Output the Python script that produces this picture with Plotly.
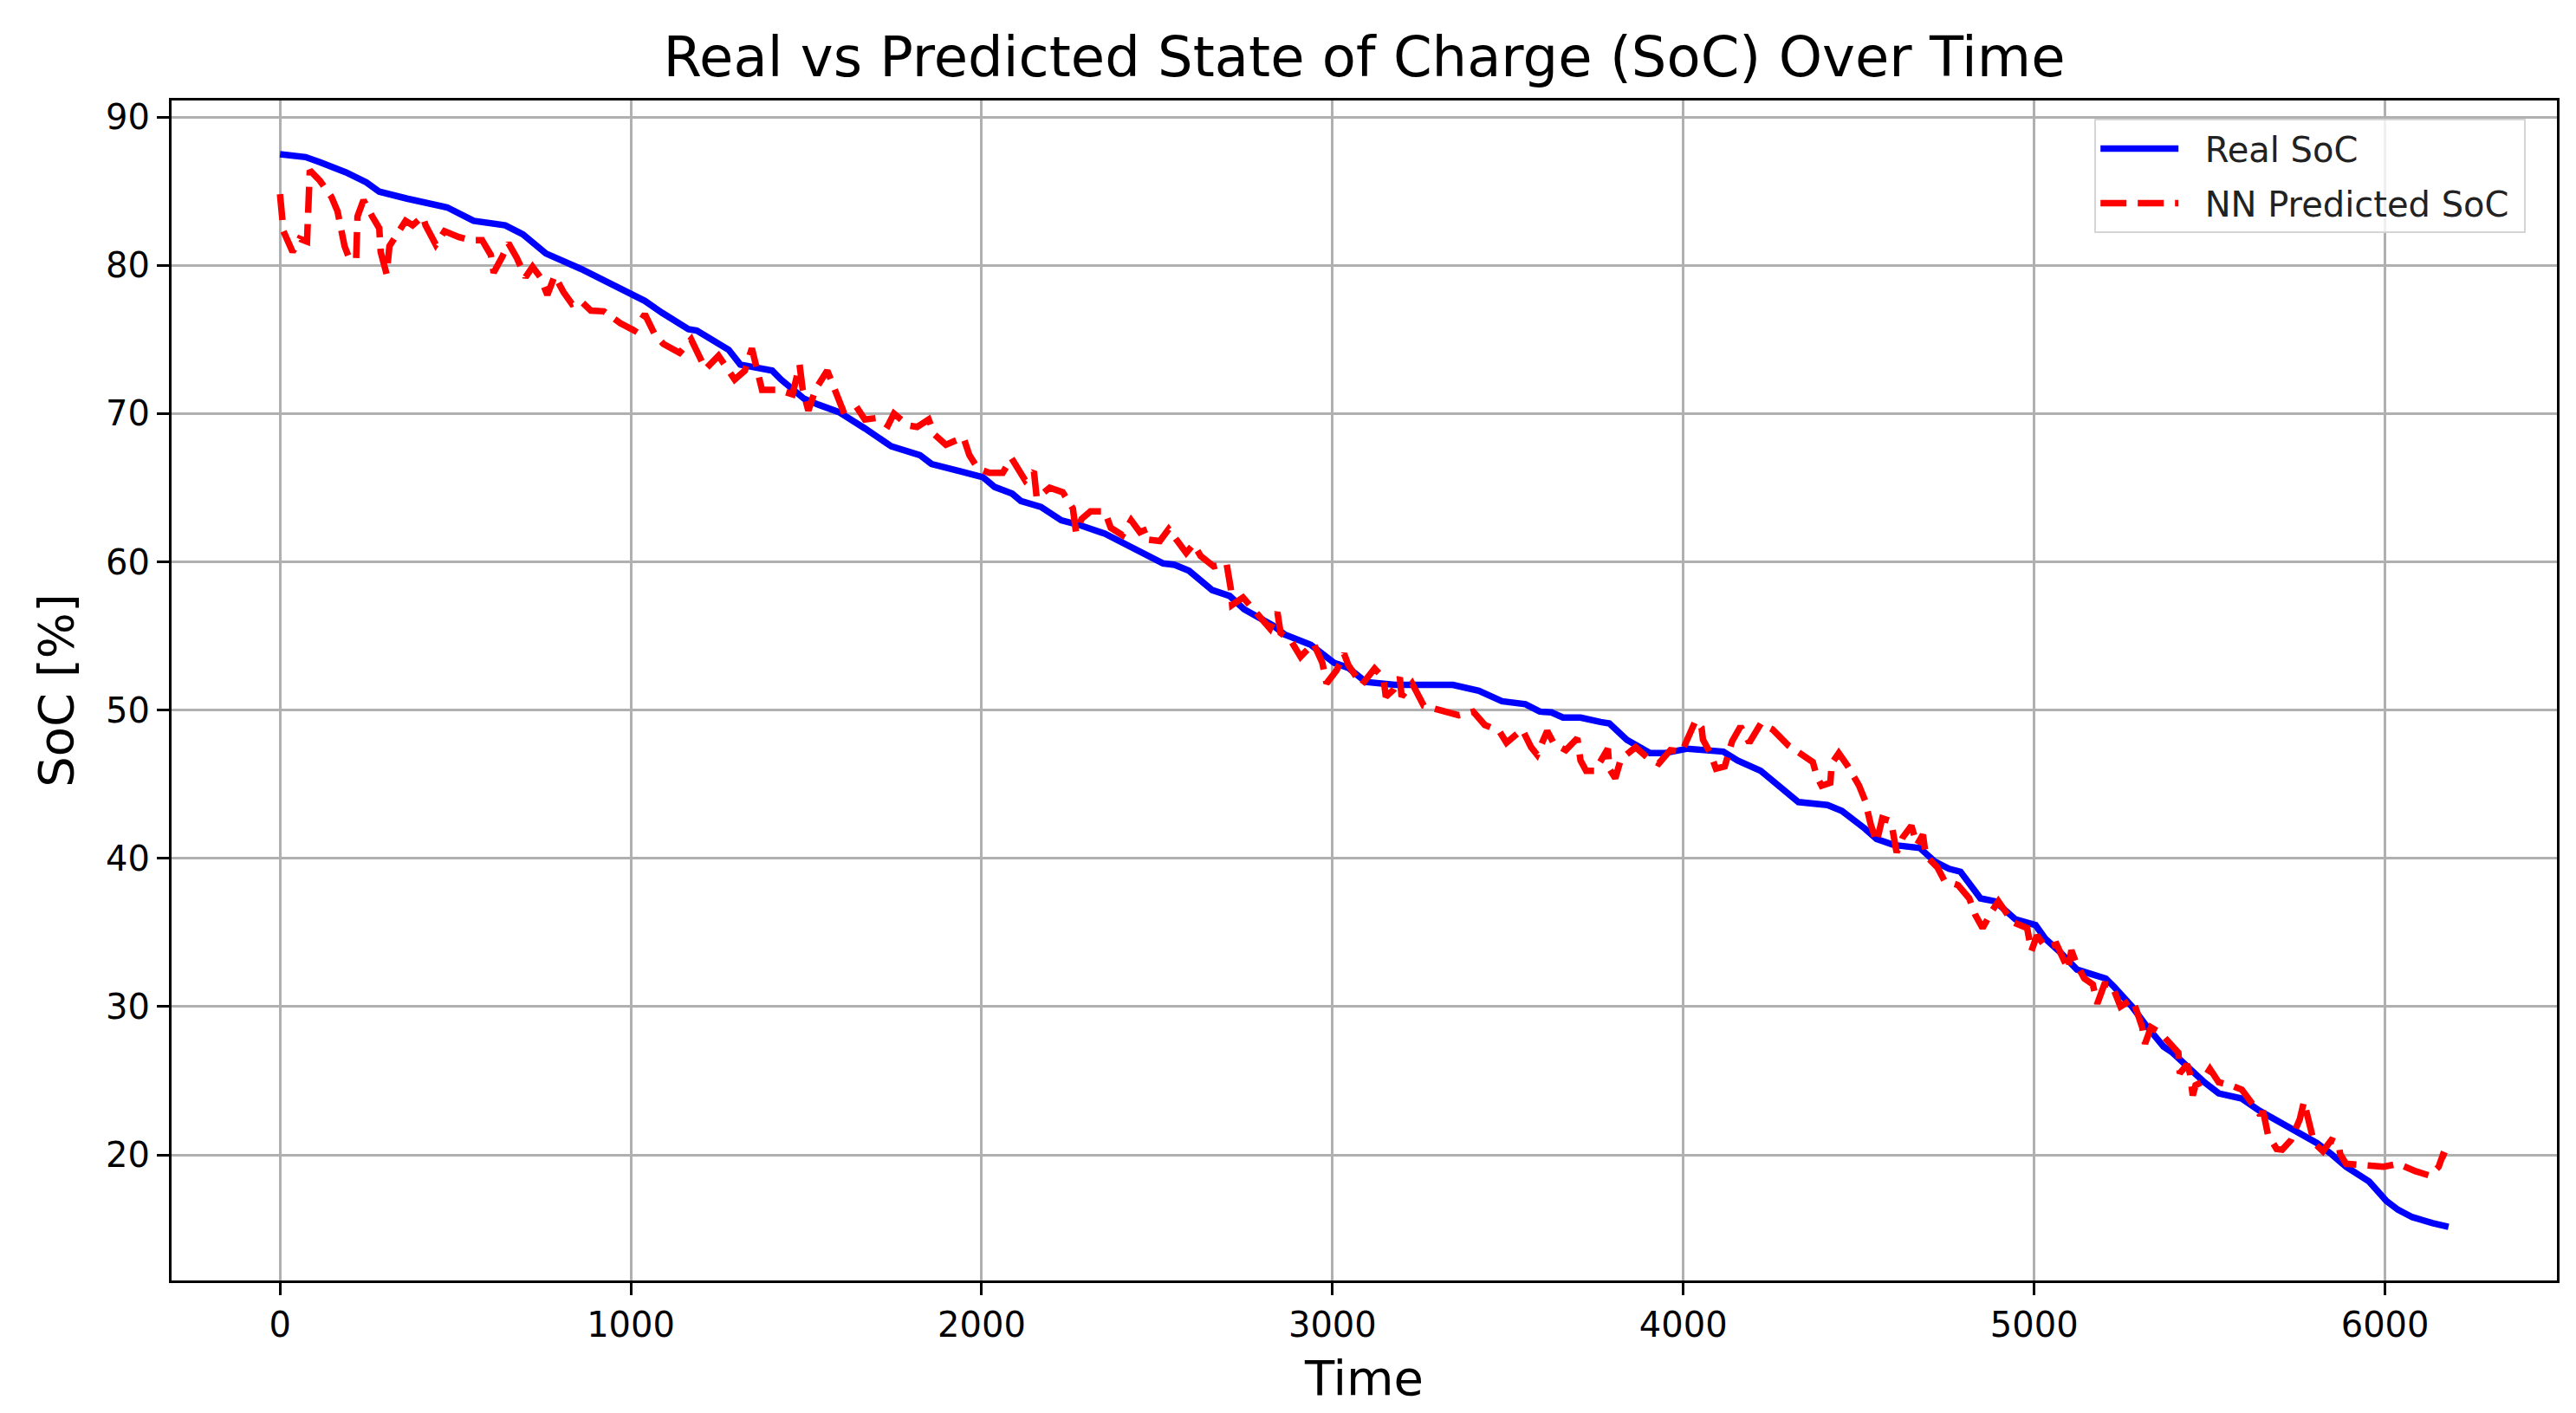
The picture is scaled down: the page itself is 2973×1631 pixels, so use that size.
import plotly.graph_objects as go

# ---- data ----
time_real = [0, 73, 114, 188, 246, 283, 362, 477, 552, 642, 692, 758, 857, 970, 1040, 1089, 1164, 1188,
             1279, 1312, 1403, 1428, 1494, 1535, 1593, 1667, 1742, 1824, 1857, 1940, 2004, 2037, 2087,
             2112, 2169, 2227, 2277, 2351, 2401, 2459, 2517, 2550, 2591, 2657, 2707, 2748, 2831, 2864,
             2938, 3004, 3045, 3095, 3178, 3343, 3417, 3483, 3550, 3591, 3624, 3657, 3707, 3764, 3789,
             3839, 3872, 3905, 3946, 4012, 4114, 4155, 4221, 4270, 4328, 4411, 4452, 4518, 4551, 4600,
             4674, 4716, 4757, 4790, 4847, 4889, 4946, 5004, 5031, 5073, 5122, 5163, 5204, 5229, 5279,
             5320, 5369, 5394, 5444, 5485, 5526, 5592, 5641, 5691, 5749, 5806, 5847, 5889, 5955, 6004,
             6037, 6078, 6136, 6181]
soc_real = [87.5, 87.3, 86.95, 86.27, 85.6, 84.97, 84.5, 83.9, 83.0, 82.7, 82.1, 80.8, 79.77, 78.4, 77.6,
            76.8, 75.7, 75.6, 74.3, 73.3, 72.9, 72.3, 71.0, 70.6, 70.1, 69.0, 67.8, 67.2, 66.6, 66.1,
            65.7, 65.05, 64.6, 64.1, 63.7, 62.8, 62.5, 61.9, 61.3, 60.7, 59.9, 59.8, 59.4, 58.1, 57.7,
            56.8, 55.7, 55.1, 54.4, 53.2, 52.85, 51.9, 51.7, 51.7, 51.3, 50.6, 50.4, 49.9, 49.85, 49.5,
            49.5, 49.2, 49.1, 48.0, 47.5, 47.1, 47.1, 47.4, 47.2, 46.6, 45.9, 45.0, 43.8, 43.6, 43.2,
            42.0, 41.3, 40.9, 40.7, 39.8, 39.3, 39.1, 37.3, 37.1, 35.9, 35.5, 34.6, 33.7, 32.5, 32.2,
            31.9, 31.3, 30.0, 28.7, 27.3, 26.9, 25.8, 24.9, 24.15, 23.8, 23.0, 22.3, 21.6, 20.8, 20.06,
            19.2, 18.2, 16.9, 16.3, 15.8, 15.4, 15.15]

time_pred = [0, 5, 10, 36, 56, 77, 81, 85, 114, 147, 164, 184, 197, 217, 221, 238, 263, 283, 287, 296,
             304, 312, 329, 358, 378, 407, 415, 444, 469, 510, 543, 576, 601, 609, 634, 651, 675, 700,
             720, 742, 762, 783, 808, 832, 857, 886, 923, 970, 1010, 1040, 1069, 1093, 1139, 1172, 1213,
             1250, 1296, 1325, 1345, 1362, 1374, 1420, 1461, 1481, 1490, 1506, 1527, 1560, 1576, 1605,
             1642, 1667, 1700, 1733, 1750, 1791, 1816, 1849, 1865, 1898, 1948, 1965, 1989, 2022, 2060,
             2085, 2124, 2149, 2157, 2194, 2231, 2260, 2269, 2285, 2310, 2351, 2368, 2401, 2426, 2451,
             2471, 2475, 2508, 2533, 2558, 2583, 2604, 2624, 2661, 2698, 2710, 2714, 2745, 2760, 2781,
             2822, 2843, 2852, 2881, 2909, 2946, 2971, 2983, 3012, 3033, 3045, 3083, 3120, 3145, 3152,
             3175, 3192, 3197, 3227, 3260, 3302, 3360, 3401, 3434, 3475, 3496, 3541, 3566, 3583, 3612,
             3632, 3665, 3698, 3707, 3723, 3748, 3785, 3789, 3806, 3822, 3864, 3897, 3930, 3963, 3996,
             4015, 4035, 4052, 4056, 4077, 4093, 4118, 4126, 4139, 4163, 4188, 4221, 4254, 4300, 4328,
             4369, 4381, 4394, 4419, 4423, 4443, 4468, 4501, 4518, 4534, 4551, 4567, 4592, 4608, 4625,
             4650, 4666, 4683, 4691, 4724, 4744, 4783, 4815, 4832, 4853, 4881, 4898, 4939, 4980, 4992,
             5008, 5033, 5064, 5097, 5106, 5122, 5143, 5167, 5180, 5200, 5221, 5246, 5279, 5291, 5308,
             5316, 5333, 5361, 5386, 5411, 5415, 5436, 5444, 5452, 5460, 5477, 5501, 5526, 5559, 5592,
             5617, 5641, 5654, 5666, 5691, 5707, 5732, 5757, 5769, 5780, 5798, 5823, 5847, 5868, 5872,
             5889, 5930, 5971, 5996, 6037, 6054, 6087, 6128, 6153, 6165, 6175]
soc_pred = [84.8, 83.0, 82.3, 80.9, 81.8, 81.6, 85.0, 86.4, 85.7, 84.6, 83.65, 81.3, 80.5, 80.4, 83.3,
            84.4, 83.3, 82.5, 80.9, 79.86, 79.4, 81.3, 81.9, 83.0, 82.7, 83.3, 82.7, 81.4, 82.3, 81.9,
            81.7, 81.7, 80.7, 79.5, 80.6, 81.5, 80.5, 79.2, 79.9, 79.2, 78.0, 79.3, 78.2, 77.4, 77.6,
            76.95, 76.9, 76.1, 75.6, 76.7, 75.3, 74.7, 74.1, 75.0, 73.0, 73.9, 72.3, 72.9, 74.4, 72.9,
            71.6, 71.6, 71.3, 73.3, 71.6, 70.2, 71.65, 72.9, 71.9, 70.2, 70.5, 69.6, 69.7, 69.2, 70.0,
            69.2, 69.1, 69.6, 68.6, 67.9, 68.4, 67.2, 66.3, 66.0, 66.0, 67.0, 65.5, 66.1, 64.3, 65.0,
            64.7, 63.6, 62.0, 62.9, 63.4, 63.4, 62.3, 61.8, 62.8, 62.0, 62.2, 61.5, 61.4, 62.2, 61.4,
            60.6, 61.2, 60.4, 59.7, 59.9, 58.2, 57.1, 57.6, 57.2, 56.5, 55.5, 56.6, 55.2, 54.7, 53.6,
            54.5, 53.2, 51.8, 52.7, 53.8, 53.05, 51.7, 52.8, 52.2, 50.9, 51.4, 52.2, 50.9, 51.8, 50.3,
            50.0, 49.65, 49.9, 49.0, 48.6, 47.8, 48.7, 47.5, 47.0, 48.6, 47.7, 47.3, 48.1, 46.6, 45.9,
            45.9, 47.4, 46.05, 45.4, 46.7, 47.5, 46.8, 46.4, 47.3, 47.2, 48.3, 49.3, 48.8, 48.0, 47.1,
            46.05, 46.2, 47.0, 47.9, 48.9, 47.8, 49.1, 48.7, 47.6, 47.2, 46.5, 45.5, 44.9, 45.1, 46.4,
            47.1, 46.25, 44.9, 43.9, 42.3, 41.1, 42.7, 42.5, 40.4, 41.4, 42.2, 40.9, 41.6, 40.2, 39.4,
            38.5, 38.2, 37.3, 36.2, 35.3, 36.5, 37.1, 35.7, 35.3, 33.75, 34.8, 34.0, 34.2, 32.5, 33.8,
            32.8, 31.9, 31.5, 30.2, 31.5, 31.5, 30.0, 30.5, 29.8, 28.6, 27.5, 28.6, 28.2, 27.5, 26.9,
            25.5, 26.1, 25.5, 24.0, 24.7, 24.9, 25.8, 24.9, 24.7, 24.4, 23.6, 22.8, 22.8, 21.4, 20.4,
            20.35, 21.0, 22.4, 23.6, 22.4, 20.8, 20.25, 21.0, 20.8, 20.06, 19.4, 19.3, 19.2, 19.2, 19.4,
            19.2, 18.9, 18.6, 19.2, 20.0, 19.9]

x_ticks = [0, 1000, 2000, 3000, 4000, 5000, 6000]
y_ticks = [20, 30, 40, 50, 60, 70, 80, 90]
series_names = ["Real SoC", "NN Predicted SoC"]

FONT = "DejaVu Sans"
NB = "\u00a0"

# matplotlib-style 5% data margins
xmin = min(min(time_real), min(time_pred)); xmax = max(max(time_real), max(time_pred))
ymin = min(min(soc_real), min(soc_pred)); ymax = max(max(soc_real), max(soc_pred))
xpad = 0.05 * (xmax - xmin); ypad = 0.05 * (ymax - ymin)

fig = go.Figure()
fig.add_trace(go.Scatter(x=time_real, y=soc_real, mode="lines",
                         name=NB * 2 + series_names[0] + NB, legendgroup="a",
                         line=dict(color="#0000ff", width=7.5)))
fig.add_trace(go.Scatter(x=time_pred, y=soc_pred, mode="lines",
                         name=NB * 2 + series_names[1] + NB, legendgroup="b",
                         line=dict(color="#ff0000", width=7.5, dash="30px,13px")))

axis_common = dict(showline=True, linecolor="black", linewidth=3, mirror=True,
                   showgrid=True, gridcolor="#b0b0b0", gridwidth=3,
                   ticks="outside", ticklen=14, tickwidth=3, tickcolor="black",
                   tickfont=dict(family=FONT, size=40, color="black"),
                   zeroline=False)

fig.update_layout(
    width=2973, height=1631,
    margin=dict(l=190, r=30, t=108, b=161, autoexpand=False),
    paper_bgcolor="white", plot_bgcolor="white",
    title=dict(text="Real vs Predicted State of Charge (SoC) Over Time",
               font=dict(family=FONT, size=64, color="black"),
               x=(190 + 2943) / 2 / 2973, xanchor="center",
               y=1 - 58 / 1631, yanchor="middle", yref="container"),
    xaxis=dict(range=[xmin - xpad, xmax + xpad], tickvals=x_ticks,
               ticktext=[str(v) for v in x_ticks],
               title=dict(text="Time", font=dict(family=FONT, size=56, color="black"), standoff=20),
               **axis_common),
    yaxis=dict(range=[ymin - ypad, ymax + ypad], tickvals=y_ticks,
               ticktext=[str(v) for v in y_ticks],
               title=dict(text="SoC [%]", font=dict(family=FONT, size=56, color="black"), standoff=20),
               **axis_common),
    legend=dict(x=0.987, y=0.9846, xanchor="right", yanchor="top",
                bgcolor="rgba(255,255,255,0.8)", bordercolor="#d5d5d5", borderwidth=2,
                font=dict(family=FONT, size=40, color="#222222"),
                itemwidth=90, traceorder="grouped", tracegroupgap=8),
    showlegend=True,
)

fig.write_html("out.html")
